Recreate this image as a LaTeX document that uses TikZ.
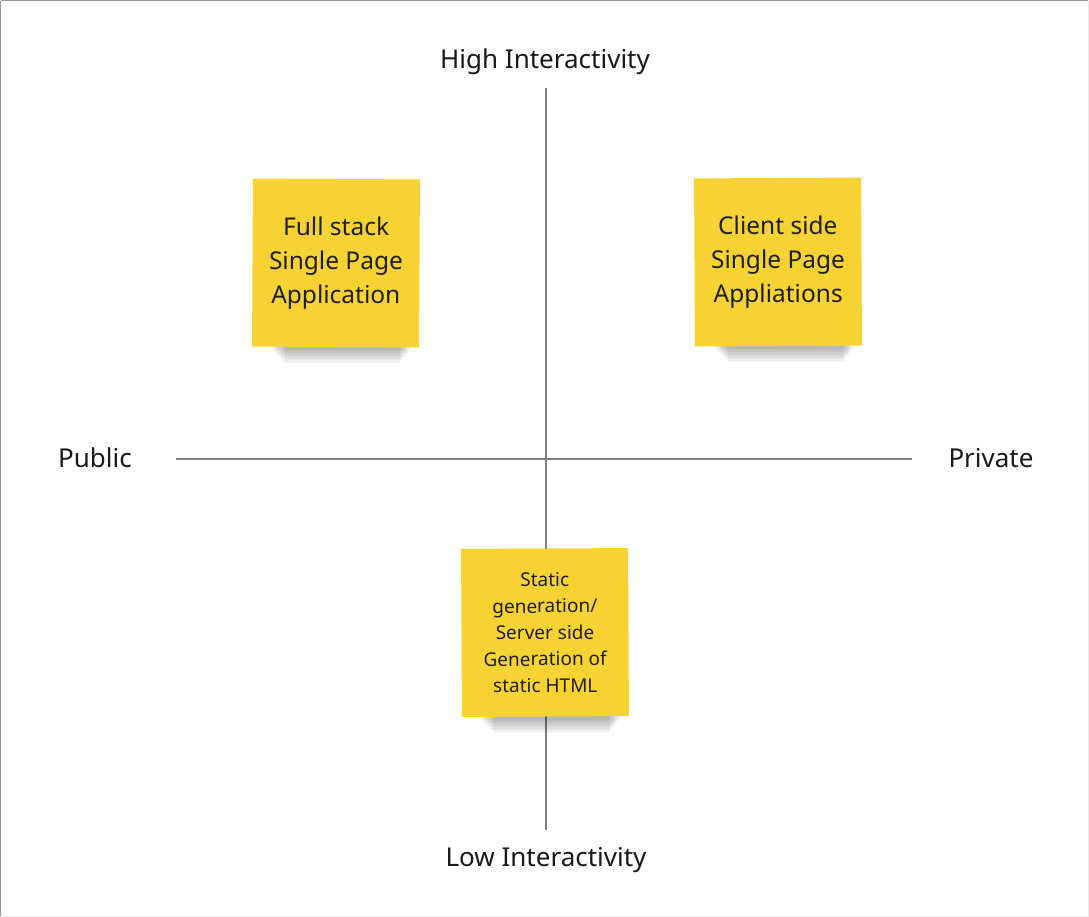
\documentclass[tikz,border=0pt]{standalone}
\usepackage{fontspec}
\setmainfont{Noto Sans}
\begin{document}
\begin{tikzpicture}[x=1pt,y=-1pt,
  axislabel/.style={font=\fontsize{26}{30}\selectfont, text=black!90, inner sep=0pt},
  axisline/.style={draw=black!50, line width=1.6pt},
  sticky/.style={fill=stickyyellow, minimum width=167pt, minimum height=168pt, inner sep=0pt, align=center, text=black!88},
  bigtext/.style={font=\fontsize{24.5}{34}\selectfont},
  smalltext/.style={font=\fontsize{19}{26.5}\selectfont},
]
\definecolor{stickyyellow}{HTML}{F6D232}
\useasboundingbox (0,0) rectangle (1089,917);
\fill[white] (0,0) rectangle (1089,917);
\draw[black!40, line width=1.2pt] (0.6,0.6) -- (1088.4,0.6);
\draw[black!40, line width=1.2pt] (0.6,0.6) -- (0.6,916.4);
\draw[black!8, line width=1pt] (0.6,916.5) -- (1088.5,916.5) -- (1088.5,0.6);

% axes
\coordinate (vtop) at (546,88);
\coordinate (vbot) at (546,830);
\coordinate (hl) at (176,459);
\coordinate (hr) at (912,459);
\draw[axisline] (vtop) -- (vbot);
\draw[axisline] (hl) -- (hr);

\node[axislabel] (high) at (545,62) {High Interactivity};
\node[axislabel] (low) at (546,860) {Low Interactivity};
\node[axislabel] (pub) at (95,458) {Public};
\node[axislabel] (priv) at (991,458) {Private};

% shadows
\foreach \cx/\cy in {336/347, 779/346, 545/717}{
  \foreach \i in {1,...,10}{
    \fill[black, opacity=0.03] ({\cx-66+\i*1.5},{\cy-6}) rectangle ({\cx+76-\i*1.2},{\cy+1+\i*1.5});
  }
}

\node[sticky, bigtext, rotate=-0.3] (fs) at (336,263) {Full stack\\Single Page\\Application};
\node[sticky, bigtext, rotate=0.3] (cs) at (778,262) {Client side\\Single Page\\Appliations};
\node[sticky, smalltext, rotate=0.3] (st) at (545,632.5) {Static\\generation/\\Server side\\Generation of\\static HTML};
\end{tikzpicture}
\end{document}
